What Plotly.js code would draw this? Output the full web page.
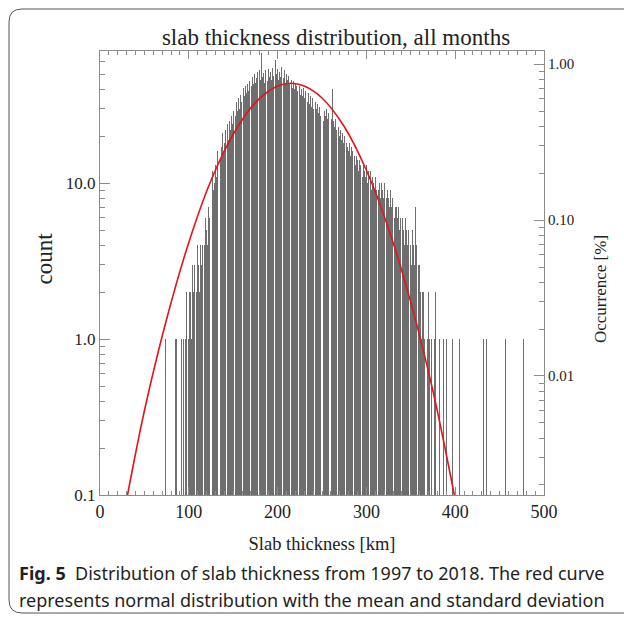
<!DOCTYPE html>
<html>
<head>
<meta charset="utf-8">
<script src="https://cdn.plot.ly/plotly-3.0.1.min.js"></script>
<style>
  html, body { margin: 0; padding: 0; background: #fff; }
  #chart { width: 624px; height: 618px; }
</style>
</head>
<body>
<div id="chart"></div>
<script>
// Histogram: 1-km bins starting at binStart (0 = empty bin)
const binStart = 70;
const counts = [
  0,0,0,0,1,0,0,0,0,0, 0,0,0,0,0,1,1,0,0,0,   // 70-89
  2,0,1,0,1,0,1,2,1,2,                         // 90-99
  1,2,2,1,3,2,3,2,3,2,                         // 100-109
  4,3,2,4,3,4,3,5,4,6,                         // 110-119
  5,4,7,6,8,11,7,12,9,10,                      // 120-129
  13,11,16,12,15,19,14,17,21,16,               // 130-139
  18,22,17,20,24,19,25,22,27,24,               // 140-149
  29,26,31,27,33,29,35,30,37,33,               // 150-159
  39,35,41,36,42,38,43,39,45,40,               // 160-169
  46,42,48,43,50,44,47,52,45,49,               // 170-179
  53,46,68,48,51,44,53,47,50,45,               // 180-189
  54,48,52,46,55,49,53,47,62,50,               // 190-199
  54,46,52,48,56,45,51,47,53,44,               // 200-209
  50,46,49,43,47,44,46,41,45,40,               // 210-219
  44,42,39,43,38,42,37,40,36,41,               // 220-229
  35,39,34,37,33,38,32,36,31,35,               // 230-239
  30,34,29,33,30,32,28,31,27,30,               // 240-249
  26,31,25,29,27,30,26,28,25,27,               // 250-259
  24,26,40,25,23,26,22,24,21,23,               // 260-269
  20,22,19,21,18,20,17,19,18,17,               // 270-279
  16,18,15,17,16,14,16,15,13,15,               // 280-289
  14,12,14,13,12,13,11,13,12,11,               // 290-299
  13,10,12,11,10,12,9,11,10,9,                 // 300-309
  11,9,10,10,9,10,8,10,9,8,                    // 310-319
  10,8,9,8,9,8,7,9,7,8,                        // 320-329
  7,8,6,7,7,6,7,5,6,7,                         // 330-339
  5,6,5,4,6,5,4,5,4,5,                         // 340-349
  4,3,5,4,3,7,4,3,3,3,                         // 350-359
  3,2,1,2,2,1,2,1,0,1,                         // 360-369
  2,1,0,1,2,1,0,1,2,0,                         // 370-379
  0,0,1,0,0,0,0,1,0,0,                         // 380-389
  1,0,1,0,0,0,0,1,0,0,                         // 390-399
  0,0,0,0,0,1,0,0,0,0,                         // 400-409
  0,1,0,0,0,0,0,0,0,0,                         // 410-419
  0,0,0,0,0,0,0,0,0,0,                         // 420-429
  0,0,1,0,0,1,0,0,0,0,                         // 430-439
  0,0,0,0,0,0,0,0,0,0,                         // 440-449
  0,0,0,0,0,0,0,1,0,0,                         // 450-459
  0,0,0,0,0,0,0,0,0,0,                         // 460-469
  0,0,0,0,0,0,0,1,0,0                          // 470-479
];

// Red normal-distribution curve
const curveX = [31, 50, 75, 100, 125, 150, 175, 200, 215, 230, 250, 275, 300, 325, 350, 375, 399];
const curveY = [0.1, 0.347, 1.34, 4.17, 10.4, 20.6, 32.9, 42.0, 43.8, 42.0, 35.2, 23.1, 12.1, 5.09, 1.72, 0.463, 0.1];

// Axis ticks
const xTicks = [0, 100, 200, 300, 400, 500];
const yTicks = [0.1, 1, 10];
const yTickText = ['0.1', '1.0', '10.0'];
const occTicks = [0.01, 0.1, 1];
const occTickText = ['0.01', '0.10', '1.00'];

const yLogRange = [-1, 1.848];
const countPerPercent = 58;   // counts corresponding to 1.00 %

const binX = [], binY = [];
counts.forEach((c, i) => { if (c > 0) { binX.push(binStart + i); binY.push(c); } });

const serif = 'Liberation Serif, Times New Roman, serif';
const axisCol = '#8c8c8c';
const txtCol = '#222';

const traces = [
  { type: 'bar', x: binX, y: binY, width: 0.85,
    marker: { color: '#6e6e6e', line: { width: 0 } },
    hoverinfo: 'skip', showlegend: false },
  { type: 'scatter', mode: 'lines', x: curveX, y: curveY,
    line: { color: '#e3141c', width: 1.6, shape: 'spline', smoothing: 1 },
    hoverinfo: 'skip', showlegend: false },
  { type: 'scatter', mode: 'lines', x: [0], y: [null], yaxis: 'y2',
    hoverinfo: 'skip', showlegend: false }
];

const occ = Math.log10(countPerPercent);

const toPx = (px) => (px - 100) / 444;   // paper x from pixel
const toPy = (py) => (495 - py) / 444;   // paper y from pixel

const layout = {
  width: 624, height: 618,
  margin: { l: 100, r: 80, t: 51, b: 123 },
  paper_bgcolor: '#fff', plot_bgcolor: '#fff',
  bargap: 0,
  title: { text: 'slab thickness distribution, all months',
    font: { family: serif, size: 23, color: txtCol },
    xref: 'container', yref: 'container', x: 336 / 624, y: 1 - 37 / 618,
    xanchor: 'center', yanchor: 'middle' },
  xaxis: {
    range: [0, 500], tickvals: xTicks, ticktext: xTicks.map(String),
    ticks: 'inside', ticklen: 8, tickcolor: axisCol, tickwidth: 1,
    minor: { ticks: 'inside', dtick: 10, ticklen: 4, tickcolor: axisCol },
    showline: true, linecolor: axisCol, linewidth: 1, mirror: 'ticks',
    showgrid: false, zeroline: false,
    tickfont: { family: serif, size: 18, color: txtCol },
    title: { text: 'Slab thickness [km]', font: { family: serif, size: 18.5, color: txtCol }, standoff: 16 }
  },
  yaxis: {
    type: 'log', range: yLogRange, tickvals: yTicks, ticktext: yTickText,
    ticks: 'inside', ticklen: 10, tickcolor: axisCol,
    minor: { ticks: 'inside', tickvals: [0.2,0.3,0.4,0.5,0.6,0.7,0.8,0.9,2,3,4,5,6,7,8,9,20,30,40,50,60,70], ticklen: 5, tickcolor: axisCol },
    showline: true, linecolor: axisCol, linewidth: 1,
    showgrid: false, zeroline: false,
    tickfont: { family: serif, size: 17, color: txtCol }
  },
  yaxis2: {
    type: 'log', overlaying: 'y', side: 'right',
    tickvals: occTicks, ticktext: occTickText,
    ticks: 'inside', ticklen: 10, tickcolor: axisCol,
    minor: { ticks: 'inside', tickvals: [0.002,0.003,0.004,0.005,0.006,0.007,0.008,0.009,0.02,0.03,0.04,0.05,0.06,0.07,0.08,0.09,0.2,0.3,0.4,0.5,0.6,0.7,0.8,0.9], ticklen: 5, tickcolor: axisCol },
    showline: true, linecolor: axisCol, linewidth: 1,
    showgrid: false, zeroline: false,
    tickfont: { family: serif, size: 15, color: txtCol }
  },
  annotations: [
    { text: 'count', textangle: -90, xref: 'paper', yref: 'paper',
      x: toPx(43.5), y: toPy(259), xanchor: 'center', yanchor: 'middle', showarrow: false,
      font: { family: serif, size: 23, color: txtCol } },
    { text: 'Occurrence [%]', textangle: -90, xref: 'paper', yref: 'paper',
      x: toPx(600), y: toPy(289), xanchor: 'center', yanchor: 'middle', showarrow: false,
      font: { family: serif, size: 17, color: txtCol } },
    { text: '<b>Fig. 5</b>  Distribution of slab thickness from 1997 to 2018. The red curve',
      xref: 'paper', yref: 'paper', x: toPx(17), y: toPy(573), xanchor: 'left', yanchor: 'middle',
      showarrow: false, font: { family: 'Noto Sans, sans-serif', size: 18, color: '#231f20' } },
    { text: 'represents normal distribution with the mean and standard deviation',
      xref: 'paper', yref: 'paper', x: toPx(17), y: toPy(600), xanchor: 'left', yanchor: 'middle',
      showarrow: false, font: { family: 'Noto Sans, sans-serif', size: 18, color: '#231f20' } }
  ],
  shapes: [
    { type: 'path', xref: 'paper', yref: 'paper',
      path: 'M ' + toPx(640) + ',' + toPy(9) +
            ' L ' + toPx(22) + ',' + toPy(9) +
            ' Q ' + toPx(9) + ',' + toPy(9) + ' ' + toPx(9) + ',' + toPy(22) +
            ' L ' + toPx(9) + ',' + toPy(600) +
            ' Q ' + toPx(9) + ',' + toPy(613) + ' ' + toPx(22) + ',' + toPy(613) +
            ' L ' + toPx(640) + ',' + toPy(613),
      line: { color: '#555', width: 1 } }
  ]
};

layout.yaxis2.range = [yLogRange[0] - occ, yLogRange[1] - occ];

Plotly.newPlot('chart', traces, layout, { staticPlot: true, displayModeBar: false });
</script>
</body>
</html>
